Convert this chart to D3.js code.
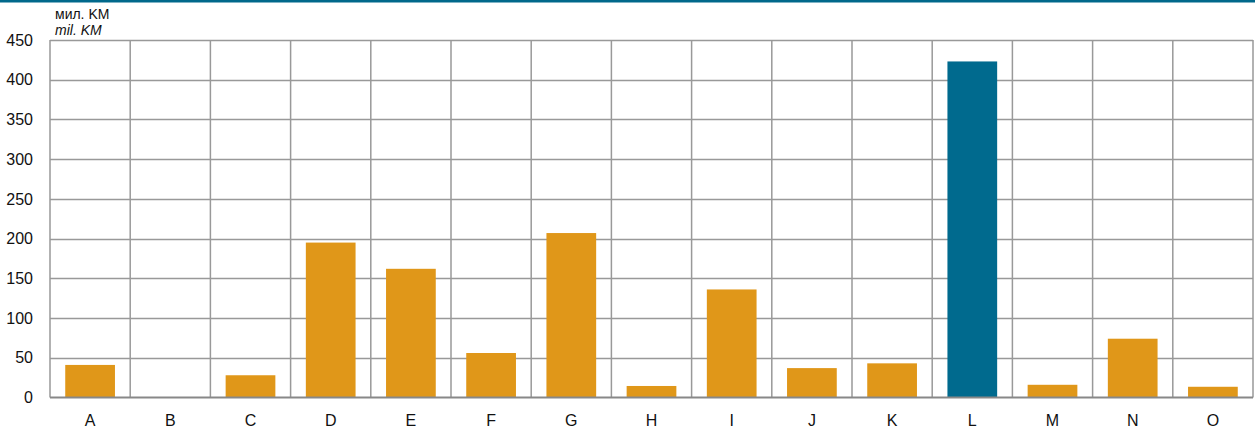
<!DOCTYPE html>
<html>
<head>
<meta charset="utf-8">
<script src="https://cdn.jsdelivr.net/npm/d3@7"></script>
<style>
  body { margin: 0; background: #fff; }
  svg text { font-family: "Liberation Sans", Arial, sans-serif; fill: #111; }
</style>
</head>
<body>
<svg width="1255" height="431"></svg>
<script>
"use strict";

// categories and values (million km)
var categories = ["A","B","C","D","E","F","G","H","I","J","K","L","M","N","O"];
var values = [41, 0, 28, 195, 162, 56, 207, 14.5, 136, 37, 43, 423, 16, 74, 13.5];
var highlight = ["L"];
var yTicks = [0, 50, 100, 150, 200, 250, 300, 350, 400, 450];

var svg = d3.select("svg");
var plotLeft = 50, plotRight = 1253, plotTop = 40, plotBottom = 397.5;

// top rule
svg.append("rect").attr("x", 0).attr("y", 0).attr("width", 1255).attr("height", 2.5).attr("fill", "#00688b");

var x = d3.scaleBand().domain(categories).range([plotLeft, plotRight]).paddingInner(0.38).paddingOuter(0.19);
var y = d3.scaleLinear().domain([0, 450]).range([plotBottom, plotTop]);

// horizontal grid
svg.append("g").selectAll("line").data(yTicks.slice(1)).enter().append("line")
    .attr("x1", plotLeft).attr("x2", plotRight)
    .attr("y1", function(d){ return Math.round(y(d)) + 0.5; })
    .attr("y2", function(d){ return Math.round(y(d)) + 0.5; })
    .attr("stroke", "#999").attr("stroke-width", 1.5);

// vertical category separators
var seps = d3.range(categories.length + 1).map(function(i){ return plotLeft + i * (plotRight - plotLeft) / categories.length; });
svg.append("g").selectAll("line").data(seps).enter().append("line")
    .attr("x1", function(d){ return d; }).attr("x2", function(d){ return d; })
    .attr("y1", plotTop).attr("y2", plotBottom)
    .attr("stroke", "#999").attr("stroke-width", 1.5);

// bars
svg.append("g").selectAll("rect").data(categories).enter().append("rect")
    .attr("x", function(d){ return x(d); })
    .attr("width", x.bandwidth())
    .attr("y", function(d, i){ return y(values[i]); })
    .attr("height", function(d, i){ return plotBottom - y(values[i]); })
    .attr("fill", function(d){ return highlight.indexOf(d) >= 0 ? "#006a8e" : "#e09719"; });

// axis line
svg.append("line").attr("x1", plotLeft).attr("x2", plotRight).attr("y1", plotBottom).attr("y2", plotBottom)
    .attr("stroke", "#888").attr("stroke-width", 2);

// y axis labels
var yAxis = d3.axisLeft(y).tickValues(yTicks).tickSize(0).tickPadding(17);
var gy = svg.append("g").attr("transform", "translate(" + plotLeft + ",0)").call(yAxis);
gy.select(".domain").remove();
gy.selectAll("text").style("font-size", "16px").attr("fill", "#111");

// x axis labels
var xAxis = d3.axisBottom(x).tickSize(0).tickPadding(17);
var gx = svg.append("g").attr("transform", "translate(0," + plotBottom + ")").call(xAxis);
gx.select(".domain").remove();
gx.selectAll("text").style("font-size", "16px").attr("fill", "#111");

// unit labels
svg.append("text").attr("x", 55).attr("y", 18.5).attr("font-size", 14).text("мил. KM");
svg.append("text").attr("x", 55).attr("y", 35).attr("font-size", 14).attr("font-style", "italic").text("mil. KM");
</script>
</body>
</html>
